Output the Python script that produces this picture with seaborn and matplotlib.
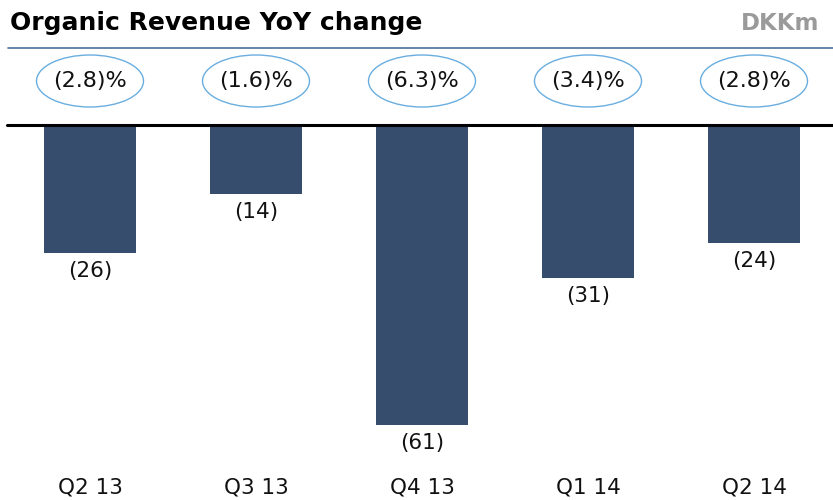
import numpy as np
import pandas as pd
import matplotlib
matplotlib.use("Agg")
import matplotlib.pyplot as plt
from matplotlib.patches import Ellipse
import seaborn as sns

# Data
quarters = ["Q2 13", "Q3 13", "Q4 13", "Q1 14", "Q2 14"]
revenue_change = [-26, -14, -61, -31, -24]
pct_change = [-2.8, -1.6, -6.3, -3.4, -2.8]

df = pd.DataFrame({"quarter": quarters, "change": revenue_change})

sns.set_theme(style="white")
plt.rcParams["font.family"] = ["DejaVu Sans"]

W, H = 833, 500
fig = plt.figure(figsize=(W / 100, H / 100), dpi=100)

# axes: x centers at 90 + 166*i px, zero line at y=125 px, 4.92 px per unit
px_per_unit = 4.92
ax_left, ax_right = 7, 833
ax_top, ax_bottom = 125, 470
ax = fig.add_axes([ax_left / W, (H - ax_bottom) / H,
                   (ax_right - ax_left) / W, (ax_bottom - ax_top) / H])

sns.barplot(data=df, x="quarter", y="change", color="#374d6e",
            width=0.554, saturation=1, linewidth=0, ax=ax)

ax.set_xlim(-0.5, -0.5 + (ax_right - ax_left) / 166)
ax.set_ylim(-(ax_bottom - ax_top) / px_per_unit, 0)

for s in ax.spines.values():
    s.set_visible(False)
ax.set_xticks([])
ax.set_yticks([])
ax.set_xlabel("")
ax.set_ylabel("")

# baseline
ax.axhline(0, color="black", lw=2.2, clip_on=False, zorder=5)

unit = 1 / px_per_unit
for i, v in enumerate(revenue_change):
    ax.text(i, v - 18 * unit, f"({abs(v)})", ha="center", va="center",
            fontsize=15.5, color="#111111")
    ax.text(i, -(488 - ax_top) * unit, quarters[i], ha="center", va="center",
            fontsize=15.5, color="#111111", clip_on=False)

# ellipses with percentage change
for i, p in enumerate(pct_change):
    cy = (ax_top - 81) * unit
    e = Ellipse((i, cy), width=107 / 166, height=52 * unit, fill=False,
                edgecolor="#6aaee0", lw=1.0, clip_on=False)
    ax.add_patch(e)
    ax.text(i, cy, f"({abs(p):.1f})%", ha="center", va="center",
            fontsize=16, color="#111111", clip_on=False)

# header
fig.text(10 / W, 1 - 23 / H, "Organic Revenue YoY change", ha="left",
         va="center", fontsize=18, fontweight="bold", color="black")
fig.text(819 / W, 1 - 23 / H, "DKKm", ha="right", va="center",
         fontsize=16.5, fontweight="bold", color="#9a9a9a")
fig.add_artist(plt.Line2D([8 / W, 1], [1 - 48 / H, 1 - 48 / H],
                          color="#4a6f9a", lw=1.2))

fig.savefig("out.png", dpi=100)
